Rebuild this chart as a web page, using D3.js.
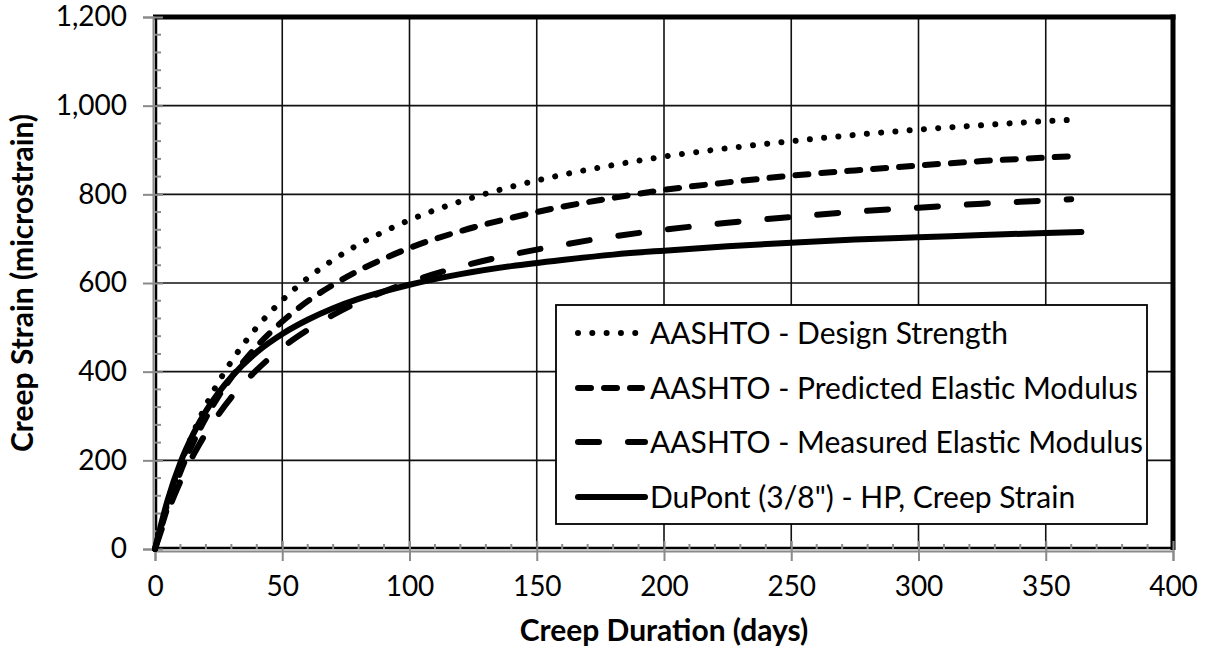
<!DOCTYPE html>
<html><head><meta charset="utf-8">
<script src="https://cdn.jsdelivr.net/npm/d3@7"></script>
<style>
body{margin:0;background:#fff}
svg{display:block}
text{font-family:Lato,"Open Sans",sans-serif;fill:#000}
</style></head><body>
<svg id="chart" width="1208" height="653"></svg>
<script>
// ---- data ----
const daysAashto = [0,5,10,15,20,25,30,40,50,60,70,80,90,100,120,140,160,180,200,225,250,275,300,325,350,360];
const designStrength   = [0,104,190,262,324,377,423,500,561,611,652,687,716,742,784,817,844,866,885,904,920,934,946,956,965,968];
const predictedModulus = [0,95,174,240,296,345,387,457,513,559,596,628,655,679,717,747,772,792,810,827,842,854,865,875,883,886];
const measuredModulus  = [0,83,153,211,261,304,342,404,454,494,528,557,581,602,637,664,686,705,720,736,749,761,770,779,786,789];
const daysDuPont = [0,5,10,15,20,25,30,40,50,60,70,80,90,100,120,140,160,180,200,225,250,275,300,325,350,364];
const dupontCreep = [0,111,195,259,311,353,388,444,485,517,543,564,581,596,620,638,652,664,673,683,691,698,703,708,713,715];
const xTicks = [0,50,100,150,200,250,300,350,400];
const yTicks = [0,200,400,600,800,1000,1200];
const seriesNames = ["AASHTO - Design Strength","AASHTO - Predicted Elastic Modulus","AASHTO - Measured Elastic Modulus","DuPont (3/8\") - HP, Creep Strain"];
const xTitle = "Creep Duration (days)";
const yTitle = "Creep Strain (microstrain)";

// ---- layout ----
const L=155, R=1173, T=17, B=549;
const svg = d3.select("#chart");
const x = d3.scaleLinear().domain([0,400]).range([L,R]);
const y = d3.scaleLinear().domain([0,1200]).range([B,T]);

const styles = [
  {dash:"0.01,14.3"},
  {dash:"13,13"},
  {dash:"21,29"},
  {dash:null}
];
const series = [
  {d:daysAashto, v:designStrength},
  {d:daysAashto, v:predictedModulus},
  {d:daysAashto, v:measuredModulus},
  {d:daysDuPont, v:dupontCreep}
];

// gridlines
svg.append("g").selectAll("line").data(xTicks.filter(t=>t>0&&t<400)).join("line")
  .attr("x1",d=>x(d)).attr("x2",d=>x(d)).attr("y1",T).attr("y2",B)
  .attr("stroke","#111").attr("stroke-width",1.6);
svg.append("g").selectAll("line").data(yTicks.filter(t=>t>0&&t<1200)).join("line")
  .attr("y1",d=>y(d)).attr("y2",d=>y(d)).attr("x1",L).attr("x2",R)
  .attr("stroke","#111").attr("stroke-width",1.6);

// plot border
svg.append("line").attr("x1",L-2).attr("x2",R+2.5).attr("y1",T).attr("y2",T).attr("stroke","#000").attr("stroke-width",5);
svg.append("line").attr("x1",R).attr("x2",R).attr("y1",T-2.5).attr("y2",B+1).attr("stroke","#000").attr("stroke-width",5);
svg.append("line").attr("x1",L+1).attr("x2",L+1).attr("y1",T).attr("y2",B).attr("stroke","#000").attr("stroke-width",2.5);
svg.append("line").attr("x1",L).attr("x2",R).attr("y1",B-1).attr("y2",B-1).attr("stroke","#000").attr("stroke-width",2.5);

// axes (gray)
const gray="#8a8a8a";
const yAxis = d3.axisLeft(y).tickValues(yTicks).tickFormat(d3.format(",")).tickSize(10).tickPadding(16);
const gy = svg.append("g").attr("transform",`translate(${L-2},0)`).call(yAxis);
gy.select(".domain").attr("stroke",gray).attr("stroke-width",2);
gy.selectAll(".tick line").attr("stroke",gray).attr("stroke-width",2).attr("x1",10);
gy.selectAll(".tick text").style("font-size","28px");
const yMinor = d3.range(0,1201,40).filter(v=>v%200!==0);
gy.append("g").selectAll("line").data(yMinor).join("line")
  .attr("x1",2).attr("x2",8).attr("y1",d=>y(d)).attr("y2",d=>y(d)).attr("stroke",gray).attr("stroke-width",2);

const xAxis = d3.axisBottom(x).tickValues(xTicks).tickSize(10).tickPadding(15);
const gx = svg.append("g").attr("transform",`translate(0,${B+2})`).call(xAxis);
gx.select(".domain").attr("stroke",gray).attr("stroke-width",2);
gx.selectAll(".tick line").attr("stroke",gray).attr("stroke-width",2).attr("y1",-10);
gx.selectAll(".tick text").style("font-size","28px");
const xMinor = d3.range(0,401,10).filter(v=>v%50!==0);
gx.append("g").selectAll("line").data(xMinor).join("line")
  .attr("y1",-2).attr("y2",-7).attr("x1",d=>x(d)).attr("x2",d=>x(d)).attr("stroke",gray).attr("stroke-width",2);

// curves
const line = d3.line().curve(d3.curveMonotoneX);
series.forEach((s,i)=>{
  const pts = s.d.map((d,j)=>[x(d),y(s.v[j])]);
  const p = svg.append("path").attr("d",line(pts)).attr("fill","none")
    .attr("stroke","#000").attr("stroke-width",6)
    .attr("stroke-linecap","round").attr("stroke-linejoin","round");
  if(styles[i].dash) p.attr("stroke-dasharray",styles[i].dash);
});

// legend
const lg = svg.append("g");
lg.append("rect").attr("x",556).attr("y",305).attr("width",591).attr("height",219)
  .attr("fill","#fff").attr("stroke","#000").attr("stroke-width",1.8);
const rowY = [333,388,442,497];
seriesNames.forEach((n,i)=>{
  const s = lg.append("line").attr("x1",578).attr("x2",i===1?642:(i===0?643:645)).attr("y1",rowY[i]).attr("y2",rowY[i])
    .attr("stroke","#000").attr("stroke-width",6).attr("stroke-linecap","round");
  if(styles[i].dash) s.attr("stroke-dasharray",styles[i].dash);
  lg.append("text").attr("x",650).attr("y",rowY[i]).attr("dy","0.35em").style("font-size","30px").text(n);
});

// titles
svg.append("text").attr("x",(L+R)/2).attr("y",630).attr("dy","0.35em").attr("text-anchor","middle")
  .style("font-size","30px").style("font-weight","bold").text(xTitle);
svg.append("text").attr("transform",`translate(22,${(T+B)/2}) rotate(-90)`).attr("dy","0.35em").attr("text-anchor","middle")
  .style("font-size","30px").style("font-weight","bold").text(yTitle);
</script>
</body></html>
